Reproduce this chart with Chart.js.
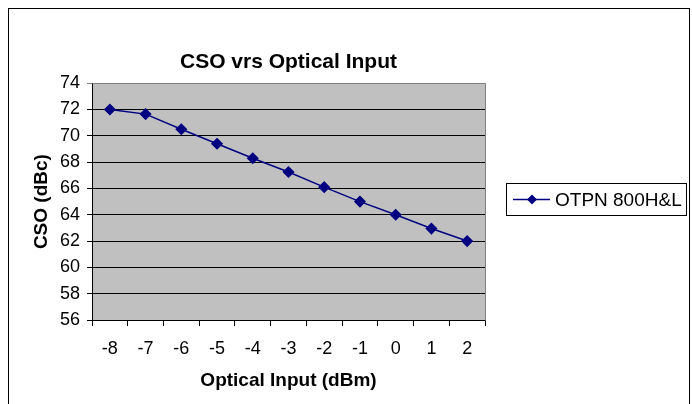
<!DOCTYPE html>
<html>
<head>
<meta charset="utf-8">
<script src="https://cdn.jsdelivr.net/npm/chart.js@4.4.1/dist/chart.umd.min.js"></script>
<style>
  html, body { margin: 0; padding: 0; background: #fff; }
  #wrap { width: 692px; height: 404px; }
</style>
</head>
<body>
<div id="wrap"><canvas id="chart" width="692" height="404"></canvas></div>
<script>
// data
const categories = ['-8', '-7', '-6', '-5', '-4', '-3', '-2', '-1', '0', '1', '2'];
const csoValues = [72.0, 71.65, 70.5, 69.4, 68.3, 67.25, 66.1, 65.0, 64.0, 62.95, 62.0];
const seriesLabel = 'OTPN 800H&L';
const yTicks = [56, 58, 60, 62, 64, 66, 68, 70, 72, 74];

const FONT = '"Liberation Sans", Arial, sans-serif';
const NAVY = '#000080';

// gray plot area, gray top/right border, outer frame and the boxed legend
const excelLook = {
  id: 'excelLook',
  afterLayout(chart) {
    // centre the title over the plot area, like Excel does
    if (chart.titleBlock) {
      chart.titleBlock.left = chart.chartArea.left;
      chart.titleBlock.right = chart.chartArea.right;
    }
  },
  beforeDraw(chart) {
    const c = chart.ctx, a = chart.chartArea;
    c.save();
    c.fillStyle = '#fff';
    c.fillRect(0, 0, chart.width, chart.height);
    c.fillStyle = '#C0C0C0';
    c.fillRect(a.left, a.top, a.right - a.left, a.bottom - a.top);
    c.restore();
  },
  afterDraw(chart) {
    const c = chart.ctx, a = chart.chartArea;
    c.save();
    c.strokeStyle = '#808080';
    c.lineWidth = 1;
    c.beginPath();
    c.moveTo(Math.round(a.left) + 0.5, Math.round(a.top) + 0.5);
    c.lineTo(Math.round(a.right) + 0.5, Math.round(a.top) + 0.5);
    c.lineTo(Math.round(a.right) + 0.5, Math.round(a.bottom) + 0.5);
    c.stroke();

    // outer chart frame
    c.strokeStyle = '#000';
    c.strokeRect(8.5, 8.5, 681, 404);

    // legend box
    const ds = chart.data.datasets[0];
    const bx = 506.5, by = 183.5, bw = 180, bh = 32;
    c.fillStyle = '#fff';
    c.fillRect(bx, by, bw, bh);
    c.strokeRect(bx, by, bw, bh);
    const ly = by + bh / 2;
    c.strokeStyle = ds.borderColor;
    c.lineWidth = 1.5;
    c.beginPath();
    c.moveTo(513, ly);
    c.lineTo(550, ly);
    c.stroke();
    c.fillStyle = ds.pointBackgroundColor;
    c.beginPath();
    c.moveTo(532, ly - 5);
    c.lineTo(537, ly);
    c.lineTo(532, ly + 5);
    c.lineTo(527, ly);
    c.closePath();
    c.fill();
    c.fillStyle = '#000';
    c.font = '19px ' + FONT;
    c.textBaseline = 'middle';
    c.fillText(ds.label, 555, ly + 1);
    c.restore();
  }
};

new Chart(document.getElementById('chart').getContext('2d'), {
  type: 'line',
  data: {
    labels: categories,
    datasets: [{
      label: seriesLabel,
      data: csoValues,
      borderColor: NAVY,
      borderWidth: 1.5,
      backgroundColor: NAVY,
      pointBackgroundColor: NAVY,
      pointBorderColor: NAVY,
      pointStyle: 'rectRot',
      pointRadius: 5,
      tension: 0,
      fill: false
    }]
  },
  options: {
    responsive: false,
    animation: false,
    layout: { padding: { left: 20, right: 207, top: 0, bottom: 0 } },
    plugins: {
      legend: { display: false },
      tooltip: { enabled: false },
      title: {
        display: true,
        text: 'CSO vrs Optical Input',
        color: '#000',
        font: { family: FONT, size: 21, weight: 'bold' },
        padding: { top: 50, bottom: 8 }
      }
    },
    scales: {
      x: {
        offset: true,
        afterFit(s) { s.height = 84; },
        grid: {
          offset: true,
          drawOnChartArea: false,
          drawTicks: true,
          tickLength: 6,
          color: '#000'
        },
        border: { color: '#000', width: 1 },
        ticks: {
          color: '#000',
          padding: 12,
          maxRotation: 0,
          font: { family: FONT, size: 18 }
        },
        title: {
          display: true,
          text: 'Optical Input (dBm)',
          color: '#000',
          font: { family: FONT, size: 19, weight: 'bold' },
          padding: { top: 8, bottom: 12 }
        }
      },
      y: {
        min: yTicks[0],
        max: yTicks[yTicks.length - 1],
        afterFit(s) { s.width = 72; },
        afterBuildTicks(s) { s.ticks = yTicks.map(v => ({ value: v })); },
        grid: {
          color: ctx => (ctx.tick && ctx.tick.value === 74 ? '#808080' : '#000'),
          drawTicks: true,
          tickLength: 5,
          lineWidth: 1
        },
        border: { color: '#000', width: 1 },
        ticks: {
          color: '#000',
          padding: 7,
          font: { family: FONT, size: 18 }
        },
        title: {
          display: true,
          text: 'CSO (dBc)',
          color: '#000',
          font: { family: FONT, size: 19, weight: 'bold' },
          padding: { top: 10, bottom: 4 }
        }
      }
    }
  },
  plugins: [excelLook]
});
</script>
</body>
</html>
